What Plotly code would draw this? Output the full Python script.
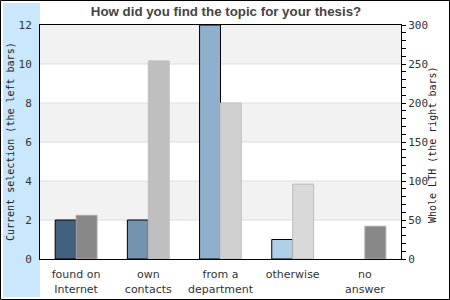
import plotly.graph_objects as go

categories = ["found on<br>Internet", "own<br>contacts", "from a<br>department", "otherwise", "no<br>answer"]
current_selection = [2, 2, 12, 1, 0]
whole_lth = [56, 254, 200, 96, 42]

left_colors = ["#41617e", "#7393b0", "#8eb0cc", "#aecfe8", "#41617e"]
left_border_w = [1, 1, 1, 1, 0]
right_colors = ["#888888", "#bfbfbf", "#d0d0d0", "#d9d9d9", "#888888"]
right_borders = ["#aaaaaa", "#bfbfbf", "#c4c4c4", "#bdbdbd", "#aaaaaa"]

title = "How did you find the topic for your thesis?"
left_title = "Current selection (the left bars)"
right_title = "Whole LTH (the right bars)"

L, R, T, B = 40, 49, 25, 41
W, H = 450, 300
pw, ph = W - L - R, H - T - B

def px(x):
    return (x - L) / pw

def py(y):
    return (H - B - y) / ph

fig = go.Figure()
fig.add_trace(go.Bar(x=categories, y=current_selection, yaxis="y", offsetgroup="1",
                     marker=dict(color=left_colors, line=dict(color="black", width=left_border_w)),
                     showlegend=False))
fig.add_trace(go.Bar(x=categories, y=whole_lth, yaxis="y2", offsetgroup="2",
                     marker=dict(color=right_colors, line=dict(color=right_borders, width=1)),
                     showlegend=False))

shapes = []
shapes.append(dict(type="rect", xref="paper", yref="paper",
                   x0=px(0.5), x1=px(449.5), y0=py(299.5), y1=py(0.5),
                   line=dict(color="black", width=1), fillcolor="white", layer="below"))
shapes.append(dict(type="rect", xref="paper", yref="paper",
                   x0=px(3), x1=px(40), y0=py(297), y1=py(3),
                   line=dict(width=0), fillcolor="#c9e7fd", layer="below"))
for lo in [2, 6, 10]:
    shapes.append(dict(type="rect", xref="paper", yref="y", x0=0, x1=1, y0=lo, y1=lo + 2,
                       line=dict(width=0), fillcolor="#f2f2f2", layer="below"))
for g in [2, 4, 6, 8, 10]:
    shapes.append(dict(type="line", xref="paper", yref="y", x0=0, x1=1, y0=g, y1=g,
                       line=dict(color="#dddddd", width=1), layer="below"))

annotations = [
    dict(text=left_title, xref="paper", yref="paper", x=px(10), y=py(142),
         textangle=-90, showarrow=False, xanchor="center", yanchor="middle",
         font=dict(family="DejaVu Sans Mono", size=10, color="#222")),
    dict(text=right_title, xref="paper", yref="paper", x=px(432), y=py(145),
         textangle=-90, showarrow=False, xanchor="center", yanchor="middle",
         font=dict(family="DejaVu Sans Mono", size=10, color="#222")),
]

fig.update_layout(
    width=W, height=H,
    margin=dict(l=L, r=R, t=T, b=B, pad=0, autoexpand=False),
    paper_bgcolor="white", plot_bgcolor="rgba(0,0,0,0)",
    title=dict(text="<b>" + title + "</b>", x=226 / W, xanchor="center",
               y=1 - 11 / H, yanchor="middle",
               font=dict(family="Liberation Sans", size=13.3, color="#444444")),
    barmode="group", bargap=0.42, bargroupgap=0,
    shapes=shapes, annotations=annotations,
    xaxis=dict(showline=True, linecolor="black", linewidth=1, mirror=True,
               showgrid=False, ticks="", ticklabelstandoff=5, automargin=False,
               tickfont=dict(family="DejaVu Sans", size=11, color="#333333")),
    yaxis=dict(range=[0, 12], dtick=2, showgrid=False, zeroline=False,
               showline=True, linecolor="black", linewidth=1, automargin=False,
               ticks="outside", ticklen=5, tickcolor="rgba(0,0,0,0)",
               tickfont=dict(family="DejaVu Sans Mono", size=11, color="#333333")),
    yaxis2=dict(range=[0, 300], dtick=50, overlaying="y", side="right",
                showgrid=False, zeroline=False, automargin=False,
                showline=True, linecolor="black", linewidth=1,
                ticks="outside", ticklen=4, tickcolor="black",
                minor=dict(dtick=10, ticks="outside", ticklen=4, tickcolor="black", showgrid=False),
                tickfont=dict(family="DejaVu Sans Mono", size=11, color="#333333")),
)

fig.write_html("out.html")
